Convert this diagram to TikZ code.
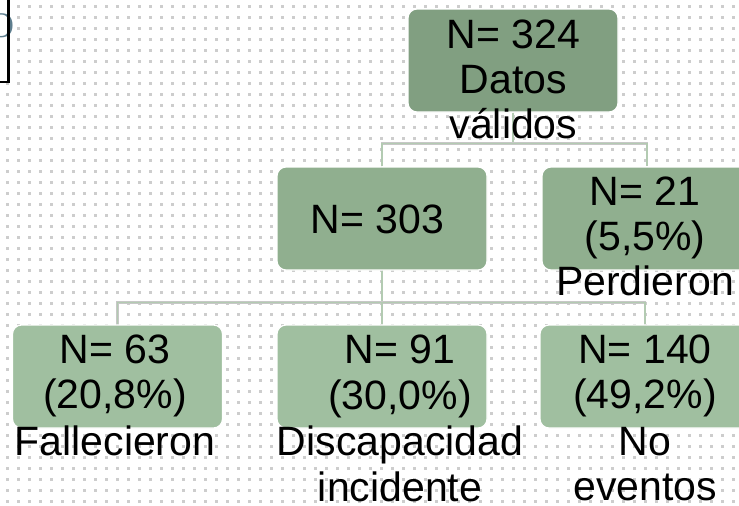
\documentclass[tikz,border=0pt]{standalone}
\usepackage{fontspec}
\setmainfont{Liberation Sans}
\newfontfamily\serifx{Liberation Serif}
\definecolor{topg}{HTML}{819F81}
\definecolor{midg}{HTML}{90AF8F}
\definecolor{botg}{HTML}{A0BFA0}
\definecolor{linkg}{HTML}{B3CBB2}
\definecolor{dotc}{HTML}{CDCDCD}
\definecolor{slate}{HTML}{5E7E8E}
\tikzset{
  box/.style={rectangle, rounded corners=9pt, draw=white, line width=1.2pt,
    minimum width=210pt, minimum height=103pt, inner sep=0pt},
  lbl/.style={anchor=base, inner sep=0pt, font=\fontsize{41}{46}\selectfont},
  link/.style={draw=black!22, double=linkg, double distance=1.4pt, line width=0.5pt},
}
\begin{document}
\begin{tikzpicture}[x=1pt,y=-1pt]
\useasboundingbox (0,0) rectangle (739,506);
\clip (0,0) rectangle (739,506);
\fill[white] (0,0) rectangle (739,506);
\foreach \i in {0,...,66}{\foreach \j in {0,...,45}{\fill[dotc] ({5.5+11*\i},{5+11*\j}) rectangle ++(3,3);}}
% fragment of another box, top left
\fill[white] (-2,-2) rectangle (9,82);
\node[anchor=base, inner sep=0pt, text=slate, font=\serifx\fontsize{36}{40}\selectfont] (frag) at (1,37) {O};
\draw[black, line width=2.5pt] (8.5,-3) -- (8.5,82) -- (-3,82);
% boxes
\node[box, fill=topg] (top) at (513,60.5) {};
\node[box, fill=midg] (n303) at (382,218.5) {};
\node[box, fill=midg] (n21) at (647,218.5) {};
\node[box, fill=botg] (n63) at (117.5,376.5) {};
\node[box, fill=botg] (n91) at (382,376.5) {};
\node[box, fill=botg] (n140) at (645,376.5) {};
% connectors
\draw[link] (top.south) -- ++(0,31) coordinate (j1);
\draw[link] (n303.north) |- (j1) -| (n21.north);
\draw[link] (n303.south) -- ++(0,32) coordinate (j2);
\draw[link] (n63.north) |- (j2) -| (n140.north);
\draw[link] (j2) -- (n91.north);
% texts
\node[lbl] (ta) at (513.5,48) {N= 324};
\node[lbl] (tb) at (513.5,93) {Datos};
\node[lbl] (tc) at (513.5,138) {válidos};
\node[lbl] (ma) at (377.5,233) {N= 303};
\node[lbl] (ra) at (645,205) {N= 21};
\node[lbl] (rb) at (645,250) {(5,5\%)};
\node[lbl] (rc) at (645,295) {Perdieron};
\node[lbl] (aa) at (115,363) {N= 63};
\node[lbl] (ab) at (115,408) {(20,8\%)};
\node[lbl] (ac) at (115,455) {Fallecieron};
\node[lbl] (ba) at (400,363) {N= 91};
\node[lbl] (bb) at (400,409) {(30,0\%)};
\node[lbl] (bc) at (400,455) {Discapacidad};
\node[lbl] (bd) at (400,501) {incidente};
\node[lbl] (ca) at (645,363) {N= 140};
\node[lbl] (cb) at (645,408) {(49,2\%)};
\node[lbl] (cc) at (645,455) {No};
\node[lbl] (cd) at (645,500) {eventos};
\end{tikzpicture}
\end{document}
